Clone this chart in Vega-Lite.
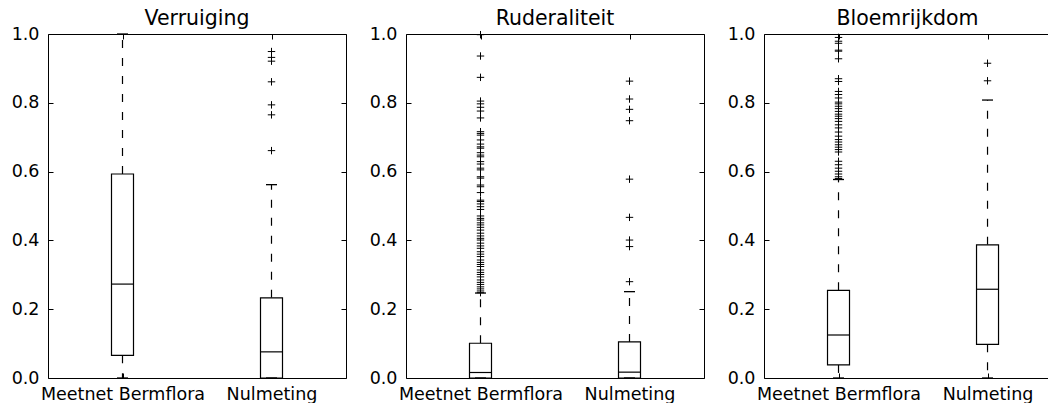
{
  "$schema": "https://vega.github.io/schema/vega-lite/v6.json",
  "autosize": {"type": "pad"},
  "padding": {"left": 11, "top": 8, "right": 0, "bottom": 0},
  "background": "white",
  "bounds": "flush",
  "spacing": 60,
  "config": {
    "font": "DejaVu Sans",
    "view": {"stroke": null},
    "axis": {
      "domainColor": "black", "domainWidth": 1, "tickColor": "black", "tickWidth": 1,
      "labelColor": "black", "labelFont": "DejaVu Sans", "labelFontSize": 17.5,
      "grid": false, "title": null, "labelLimit": 0
    },
    "title": {"font": "DejaVu Sans", "fontSize": 20.5, "fontWeight": "normal", "color": "black", "baseline": "alphabetic", "offset": -4, "anchor": "middle", "frame": "group"}
  },
  "datasets": {
    "boxes": [
      {"panel": "Verruiging", "group": "Meetnet Bermflora", "lo": 0, "q1": 0.066, "med": 0.273, "q3": 0.593, "hi": 1.0},
      {"panel": "Verruiging", "group": "Nulmeting", "lo": 0, "q1": 0, "med": 0.076, "q3": 0.233, "hi": 0.562},
      {"panel": "Ruderaliteit", "group": "Meetnet Bermflora", "lo": 0, "q1": 0, "med": 0.016, "q3": 0.101, "hi": 0.247},
      {"panel": "Ruderaliteit", "group": "Nulmeting", "lo": 0, "q1": 0, "med": 0.017, "q3": 0.105, "hi": 0.251},
      {"panel": "Bloemrijkdom", "group": "Meetnet Bermflora", "lo": 0, "q1": 0.038, "med": 0.125, "q3": 0.255, "hi": 0.577},
      {"panel": "Bloemrijkdom", "group": "Nulmeting", "lo": 0, "q1": 0.098, "med": 0.258, "q3": 0.387, "hi": 0.808}
    ],
    "outliers": [
      {"panel": "Verruiging", "group": "Nulmeting", "v": 0.661},
      {"panel": "Verruiging", "group": "Nulmeting", "v": 0.765},
      {"panel": "Verruiging", "group": "Nulmeting", "v": 0.794},
      {"panel": "Verruiging", "group": "Nulmeting", "v": 0.861},
      {"panel": "Verruiging", "group": "Nulmeting", "v": 0.921},
      {"panel": "Verruiging", "group": "Nulmeting", "v": 0.932},
      {"panel": "Verruiging", "group": "Nulmeting", "v": 0.949},
      {"panel": "Ruderaliteit", "group": "Nulmeting", "v": 0.28},
      {"panel": "Ruderaliteit", "group": "Nulmeting", "v": 0.382},
      {"panel": "Ruderaliteit", "group": "Nulmeting", "v": 0.401},
      {"panel": "Ruderaliteit", "group": "Nulmeting", "v": 0.467},
      {"panel": "Ruderaliteit", "group": "Nulmeting", "v": 0.578},
      {"panel": "Ruderaliteit", "group": "Nulmeting", "v": 0.748},
      {"panel": "Ruderaliteit", "group": "Nulmeting", "v": 0.781},
      {"panel": "Ruderaliteit", "group": "Nulmeting", "v": 0.811},
      {"panel": "Ruderaliteit", "group": "Nulmeting", "v": 0.863},
      {"panel": "Ruderaliteit", "group": "Meetnet Bermflora", "v": 0.998},
      {"panel": "Ruderaliteit", "group": "Meetnet Bermflora", "v": 0.936},
      {"panel": "Ruderaliteit", "group": "Meetnet Bermflora", "v": 0.874},
      {"panel": "Ruderaliteit", "group": "Meetnet Bermflora", "v": 0.805},
      {"panel": "Ruderaliteit", "group": "Meetnet Bermflora", "v": 0.797},
      {"panel": "Ruderaliteit", "group": "Meetnet Bermflora", "v": 0.787},
      {"panel": "Ruderaliteit", "group": "Meetnet Bermflora", "v": 0.776},
      {"panel": "Ruderaliteit", "group": "Meetnet Bermflora", "v": 0.756},
      {"panel": "Ruderaliteit", "group": "Meetnet Bermflora", "v": 0.716},
      {"panel": "Ruderaliteit", "group": "Meetnet Bermflora", "v": 0.711},
      {"panel": "Ruderaliteit", "group": "Meetnet Bermflora", "v": 0.706},
      {"panel": "Ruderaliteit", "group": "Meetnet Bermflora", "v": 0.692},
      {"panel": "Ruderaliteit", "group": "Meetnet Bermflora", "v": 0.68},
      {"panel": "Ruderaliteit", "group": "Meetnet Bermflora", "v": 0.672},
      {"panel": "Ruderaliteit", "group": "Meetnet Bermflora", "v": 0.668},
      {"panel": "Ruderaliteit", "group": "Meetnet Bermflora", "v": 0.655},
      {"panel": "Ruderaliteit", "group": "Meetnet Bermflora", "v": 0.648},
      {"panel": "Ruderaliteit", "group": "Meetnet Bermflora", "v": 0.643},
      {"panel": "Ruderaliteit", "group": "Meetnet Bermflora", "v": 0.629},
      {"panel": "Ruderaliteit", "group": "Meetnet Bermflora", "v": 0.622},
      {"panel": "Ruderaliteit", "group": "Meetnet Bermflora", "v": 0.61},
      {"panel": "Ruderaliteit", "group": "Meetnet Bermflora", "v": 0.605},
      {"panel": "Ruderaliteit", "group": "Meetnet Bermflora", "v": 0.585},
      {"panel": "Ruderaliteit", "group": "Meetnet Bermflora", "v": 0.581},
      {"panel": "Ruderaliteit", "group": "Meetnet Bermflora", "v": 0.561},
      {"panel": "Ruderaliteit", "group": "Meetnet Bermflora", "v": 0.556},
      {"panel": "Ruderaliteit", "group": "Meetnet Bermflora", "v": 0.539},
      {"panel": "Ruderaliteit", "group": "Meetnet Bermflora", "v": 0.517},
      {"panel": "Ruderaliteit", "group": "Meetnet Bermflora", "v": 0.513},
      {"panel": "Ruderaliteit", "group": "Meetnet Bermflora", "v": 0.506},
      {"panel": "Ruderaliteit", "group": "Meetnet Bermflora", "v": 0.498},
      {"panel": "Ruderaliteit", "group": "Meetnet Bermflora", "v": 0.49},
      {"panel": "Ruderaliteit", "group": "Meetnet Bermflora", "v": 0.471},
      {"panel": "Ruderaliteit", "group": "Meetnet Bermflora", "v": 0.464},
      {"panel": "Ruderaliteit", "group": "Meetnet Bermflora", "v": 0.459},
      {"panel": "Ruderaliteit", "group": "Meetnet Bermflora", "v": 0.451},
      {"panel": "Ruderaliteit", "group": "Meetnet Bermflora", "v": 0.445},
      {"panel": "Ruderaliteit", "group": "Meetnet Bermflora", "v": 0.438},
      {"panel": "Ruderaliteit", "group": "Meetnet Bermflora", "v": 0.43},
      {"panel": "Ruderaliteit", "group": "Meetnet Bermflora", "v": 0.421},
      {"panel": "Ruderaliteit", "group": "Meetnet Bermflora", "v": 0.413},
      {"panel": "Ruderaliteit", "group": "Meetnet Bermflora", "v": 0.406},
      {"panel": "Ruderaliteit", "group": "Meetnet Bermflora", "v": 0.401},
      {"panel": "Ruderaliteit", "group": "Meetnet Bermflora", "v": 0.392},
      {"panel": "Ruderaliteit", "group": "Meetnet Bermflora", "v": 0.384},
      {"panel": "Ruderaliteit", "group": "Meetnet Bermflora", "v": 0.377},
      {"panel": "Ruderaliteit", "group": "Meetnet Bermflora", "v": 0.367},
      {"panel": "Ruderaliteit", "group": "Meetnet Bermflora", "v": 0.36},
      {"panel": "Ruderaliteit", "group": "Meetnet Bermflora", "v": 0.353},
      {"panel": "Ruderaliteit", "group": "Meetnet Bermflora", "v": 0.343},
      {"panel": "Ruderaliteit", "group": "Meetnet Bermflora", "v": 0.336},
      {"panel": "Ruderaliteit", "group": "Meetnet Bermflora", "v": 0.33},
      {"panel": "Ruderaliteit", "group": "Meetnet Bermflora", "v": 0.324},
      {"panel": "Ruderaliteit", "group": "Meetnet Bermflora", "v": 0.314},
      {"panel": "Ruderaliteit", "group": "Meetnet Bermflora", "v": 0.307},
      {"panel": "Ruderaliteit", "group": "Meetnet Bermflora", "v": 0.301},
      {"panel": "Ruderaliteit", "group": "Meetnet Bermflora", "v": 0.294},
      {"panel": "Ruderaliteit", "group": "Meetnet Bermflora", "v": 0.285},
      {"panel": "Ruderaliteit", "group": "Meetnet Bermflora", "v": 0.278},
      {"panel": "Ruderaliteit", "group": "Meetnet Bermflora", "v": 0.272},
      {"panel": "Ruderaliteit", "group": "Meetnet Bermflora", "v": 0.265},
      {"panel": "Ruderaliteit", "group": "Meetnet Bermflora", "v": 0.259},
      {"panel": "Ruderaliteit", "group": "Meetnet Bermflora", "v": 0.253},
      {"panel": "Ruderaliteit", "group": "Meetnet Bermflora", "v": 0.248},
      {"panel": "Bloemrijkdom", "group": "Nulmeting", "v": 0.864},
      {"panel": "Bloemrijkdom", "group": "Nulmeting", "v": 0.915},
      {"panel": "Bloemrijkdom", "group": "Meetnet Bermflora", "v": 0.99},
      {"panel": "Bloemrijkdom", "group": "Meetnet Bermflora", "v": 0.979},
      {"panel": "Bloemrijkdom", "group": "Meetnet Bermflora", "v": 0.973},
      {"panel": "Bloemrijkdom", "group": "Meetnet Bermflora", "v": 0.953},
      {"panel": "Bloemrijkdom", "group": "Meetnet Bermflora", "v": 0.95},
      {"panel": "Bloemrijkdom", "group": "Meetnet Bermflora", "v": 0.928},
      {"panel": "Bloemrijkdom", "group": "Meetnet Bermflora", "v": 0.87},
      {"panel": "Bloemrijkdom", "group": "Meetnet Bermflora", "v": 0.862},
      {"panel": "Bloemrijkdom", "group": "Meetnet Bermflora", "v": 0.833},
      {"panel": "Bloemrijkdom", "group": "Meetnet Bermflora", "v": 0.824},
      {"panel": "Bloemrijkdom", "group": "Meetnet Bermflora", "v": 0.814},
      {"panel": "Bloemrijkdom", "group": "Meetnet Bermflora", "v": 0.802},
      {"panel": "Bloemrijkdom", "group": "Meetnet Bermflora", "v": 0.797},
      {"panel": "Bloemrijkdom", "group": "Meetnet Bermflora", "v": 0.79},
      {"panel": "Bloemrijkdom", "group": "Meetnet Bermflora", "v": 0.783},
      {"panel": "Bloemrijkdom", "group": "Meetnet Bermflora", "v": 0.775},
      {"panel": "Bloemrijkdom", "group": "Meetnet Bermflora", "v": 0.767},
      {"panel": "Bloemrijkdom", "group": "Meetnet Bermflora", "v": 0.761},
      {"panel": "Bloemrijkdom", "group": "Meetnet Bermflora", "v": 0.754},
      {"panel": "Bloemrijkdom", "group": "Meetnet Bermflora", "v": 0.746},
      {"panel": "Bloemrijkdom", "group": "Meetnet Bermflora", "v": 0.736},
      {"panel": "Bloemrijkdom", "group": "Meetnet Bermflora", "v": 0.727},
      {"panel": "Bloemrijkdom", "group": "Meetnet Bermflora", "v": 0.715},
      {"panel": "Bloemrijkdom", "group": "Meetnet Bermflora", "v": 0.703},
      {"panel": "Bloemrijkdom", "group": "Meetnet Bermflora", "v": 0.693},
      {"panel": "Bloemrijkdom", "group": "Meetnet Bermflora", "v": 0.686},
      {"panel": "Bloemrijkdom", "group": "Meetnet Bermflora", "v": 0.678},
      {"panel": "Bloemrijkdom", "group": "Meetnet Bermflora", "v": 0.671},
      {"panel": "Bloemrijkdom", "group": "Meetnet Bermflora", "v": 0.664},
      {"panel": "Bloemrijkdom", "group": "Meetnet Bermflora", "v": 0.657},
      {"panel": "Bloemrijkdom", "group": "Meetnet Bermflora", "v": 0.63},
      {"panel": "Bloemrijkdom", "group": "Meetnet Bermflora", "v": 0.62},
      {"panel": "Bloemrijkdom", "group": "Meetnet Bermflora", "v": 0.61},
      {"panel": "Bloemrijkdom", "group": "Meetnet Bermflora", "v": 0.601},
      {"panel": "Bloemrijkdom", "group": "Meetnet Bermflora", "v": 0.593},
      {"panel": "Bloemrijkdom", "group": "Meetnet Bermflora", "v": 0.585},
      {"panel": "Bloemrijkdom", "group": "Meetnet Bermflora", "v": 0.58}
    ]
  },
  "hconcat": [
    {
      "width": 298, "height": 344, "title": "Verruiging",
      "resolve": {"axis": {"x": "independent", "y": "independent"}},
      "layer": [
        {"data": {"name": "boxes"}, "transform": [{"filter": "datum.panel === 'Verruiging'"}],
         "mark": {"type": "rule", "color": "black", "strokeWidth": 1.2, "strokeDash": [8, 10]},
         "encoding": {
           "x": {"field": "group", "type": "nominal", "scale": {"type": "point", "padding": 0.5, "domain": ["Meetnet Bermflora", "Nulmeting"]}, "axis": {"orient": "bottom", "labelAngle": 0, "tickSize": -5, "labelPadding": 12}},
           "y": {"field": "q3", "type": "quantitative", "scale": {"domain": [0, 1], "nice": false, "zero": false}, "axis": {"orient": "left", "values": [0, 0.2, 0.4, 0.6, 0.8, 1.0], "format": ".1f", "tickSize": -5, "labelPadding": 14}},
           "y2": {"field": "hi"}}},
        {"data": {"name": "boxes"}, "transform": [{"filter": "datum.panel === 'Verruiging'"}],
         "mark": {"type": "rule", "color": "black", "strokeWidth": 1.2, "strokeDash": [8, 10]},
         "encoding": {
           "x": {"field": "group", "type": "nominal", "scale": {"type": "point", "padding": 0.5, "domain": ["Meetnet Bermflora", "Nulmeting"]}, "axis": null},
           "y": {"field": "q1", "type": "quantitative", "scale": {"domain": [0, 1], "nice": false, "zero": false}, "axis": null},
           "y2": {"field": "lo"}}},
        {"data": {"name": "boxes"}, "transform": [{"filter": "datum.panel === 'Verruiging'"}],
         "mark": {"type": "bar", "size": 22, "fill": "white", "stroke": "black", "strokeWidth": 1.2},
         "encoding": {
           "x": {"field": "group", "type": "nominal", "scale": {"type": "point", "padding": 0.5, "domain": ["Meetnet Bermflora", "Nulmeting"]}, "axis": null},
           "y": {"field": "q1", "type": "quantitative", "scale": {"domain": [0, 1], "nice": false, "zero": false}, "axis": null},
           "y2": {"field": "q3"}}},
        {"data": {"name": "boxes"}, "transform": [{"filter": "datum.panel === 'Verruiging'"}],
         "mark": {"type": "tick", "size": 22, "thickness": 1.2, "color": "black", "opacity": 1},
         "encoding": {
           "x": {"field": "group", "type": "nominal", "scale": {"type": "point", "padding": 0.5, "domain": ["Meetnet Bermflora", "Nulmeting"]}, "axis": null},
           "y": {"field": "med", "type": "quantitative", "scale": {"domain": [0, 1], "nice": false, "zero": false}, "axis": null}}},
        {"data": {"name": "boxes"}, "transform": [{"filter": "datum.panel === 'Verruiging'"}],
         "mark": {"type": "tick", "size": 11, "thickness": 1.3, "color": "black", "opacity": 1},
         "encoding": {
           "x": {"field": "group", "type": "nominal", "scale": {"type": "point", "padding": 0.5, "domain": ["Meetnet Bermflora", "Nulmeting"]}, "axis": null},
           "y": {"field": "hi", "type": "quantitative", "scale": {"domain": [0, 1], "nice": false, "zero": false}, "axis": null}}},
        {"data": {"name": "boxes"}, "transform": [{"filter": "datum.panel === 'Verruiging'"}],
         "mark": {"type": "tick", "size": 11, "thickness": 1.3, "color": "black", "opacity": 1},
         "encoding": {
           "x": {"field": "group", "type": "nominal", "scale": {"type": "point", "padding": 0.5, "domain": ["Meetnet Bermflora", "Nulmeting"]}, "axis": null},
           "y": {"field": "lo", "type": "quantitative", "scale": {"domain": [0, 1], "nice": false, "zero": false}, "axis": null}}},
        {"data": {"name": "outliers"}, "transform": [{"filter": "datum.panel === 'Verruiging'"}],
         "mark": {"type": "point", "shape": "M-1,0L1,0M0,-1L0,1", "size": 55, "filled": false, "stroke": "black", "strokeWidth": 1, "opacity": 1},
         "encoding": {
           "x": {"field": "group", "type": "nominal", "scale": {"type": "point", "padding": 0.5, "domain": ["Meetnet Bermflora", "Nulmeting"]}, "axis": {"orient": "top", "labels": false, "tickSize": -5}},
           "y": {"field": "v", "type": "quantitative", "scale": {"domain": [0, 1], "nice": false, "zero": false}, "axis": {"orient": "right", "labels": false, "values": [0, 0.2, 0.4, 0.6, 0.8, 1.0], "tickSize": -5}}}}
      ]
    },
    {
      "width": 298, "height": 344, "title": "Ruderaliteit",
      "resolve": {"axis": {"x": "independent", "y": "independent"}},
      "layer": [
        {"data": {"name": "boxes"}, "transform": [{"filter": "datum.panel === 'Ruderaliteit'"}],
         "mark": {"type": "rule", "color": "black", "strokeWidth": 1.2, "strokeDash": [8, 10]},
         "encoding": {
           "x": {"field": "group", "type": "nominal", "scale": {"type": "point", "padding": 0.5, "domain": ["Meetnet Bermflora", "Nulmeting"]}, "axis": {"orient": "bottom", "labelAngle": 0, "tickSize": -5, "labelPadding": 12}},
           "y": {"field": "q3", "type": "quantitative", "scale": {"domain": [0, 1], "nice": false, "zero": false}, "axis": {"orient": "left", "values": [0, 0.2, 0.4, 0.6, 0.8, 1.0], "format": ".1f", "tickSize": -5, "labelPadding": 14}},
           "y2": {"field": "hi"}}},
        {"data": {"name": "boxes"}, "transform": [{"filter": "datum.panel === 'Ruderaliteit'"}],
         "mark": {"type": "rule", "color": "black", "strokeWidth": 1.2, "strokeDash": [8, 10]},
         "encoding": {
           "x": {"field": "group", "type": "nominal", "scale": {"type": "point", "padding": 0.5, "domain": ["Meetnet Bermflora", "Nulmeting"]}, "axis": null},
           "y": {"field": "q1", "type": "quantitative", "scale": {"domain": [0, 1], "nice": false, "zero": false}, "axis": null},
           "y2": {"field": "lo"}}},
        {"data": {"name": "boxes"}, "transform": [{"filter": "datum.panel === 'Ruderaliteit'"}],
         "mark": {"type": "bar", "size": 22, "fill": "white", "stroke": "black", "strokeWidth": 1.2},
         "encoding": {
           "x": {"field": "group", "type": "nominal", "scale": {"type": "point", "padding": 0.5, "domain": ["Meetnet Bermflora", "Nulmeting"]}, "axis": null},
           "y": {"field": "q1", "type": "quantitative", "scale": {"domain": [0, 1], "nice": false, "zero": false}, "axis": null},
           "y2": {"field": "q3"}}},
        {"data": {"name": "boxes"}, "transform": [{"filter": "datum.panel === 'Ruderaliteit'"}],
         "mark": {"type": "tick", "size": 22, "thickness": 1.2, "color": "black", "opacity": 1},
         "encoding": {
           "x": {"field": "group", "type": "nominal", "scale": {"type": "point", "padding": 0.5, "domain": ["Meetnet Bermflora", "Nulmeting"]}, "axis": null},
           "y": {"field": "med", "type": "quantitative", "scale": {"domain": [0, 1], "nice": false, "zero": false}, "axis": null}}},
        {"data": {"name": "boxes"}, "transform": [{"filter": "datum.panel === 'Ruderaliteit'"}],
         "mark": {"type": "tick", "size": 11, "thickness": 1.3, "color": "black", "opacity": 1},
         "encoding": {
           "x": {"field": "group", "type": "nominal", "scale": {"type": "point", "padding": 0.5, "domain": ["Meetnet Bermflora", "Nulmeting"]}, "axis": null},
           "y": {"field": "hi", "type": "quantitative", "scale": {"domain": [0, 1], "nice": false, "zero": false}, "axis": null}}},
        {"data": {"name": "boxes"}, "transform": [{"filter": "datum.panel === 'Ruderaliteit'"}],
         "mark": {"type": "tick", "size": 11, "thickness": 1.3, "color": "black", "opacity": 1},
         "encoding": {
           "x": {"field": "group", "type": "nominal", "scale": {"type": "point", "padding": 0.5, "domain": ["Meetnet Bermflora", "Nulmeting"]}, "axis": null},
           "y": {"field": "lo", "type": "quantitative", "scale": {"domain": [0, 1], "nice": false, "zero": false}, "axis": null}}},
        {"data": {"name": "outliers"}, "transform": [{"filter": "datum.panel === 'Ruderaliteit'"}],
         "mark": {"type": "point", "shape": "M-1,0L1,0M0,-1L0,1", "size": 55, "filled": false, "stroke": "black", "strokeWidth": 1, "opacity": 1},
         "encoding": {
           "x": {"field": "group", "type": "nominal", "scale": {"type": "point", "padding": 0.5, "domain": ["Meetnet Bermflora", "Nulmeting"]}, "axis": {"orient": "top", "labels": false, "tickSize": -5}},
           "y": {"field": "v", "type": "quantitative", "scale": {"domain": [0, 1], "nice": false, "zero": false}, "axis": {"orient": "right", "labels": false, "values": [0, 0.2, 0.4, 0.6, 0.8, 1.0], "tickSize": -5}}}}
      ]
    },
    {
      "width": 287, "height": 344, "title": "Bloemrijkdom",
      "resolve": {"axis": {"x": "independent", "y": "independent"}},
      "layer": [
        {"data": {"name": "boxes"}, "transform": [{"filter": "datum.panel === 'Bloemrijkdom'"}],
         "mark": {"type": "rule", "color": "black", "strokeWidth": 1.2, "strokeDash": [8, 10]},
         "encoding": {
           "x": {"field": "group", "type": "nominal", "scale": {"type": "point", "padding": 0.463, "align": 0.54, "domain": ["Meetnet Bermflora", "Nulmeting"]}, "axis": {"orient": "bottom", "labelAngle": 0, "tickSize": -5, "labelPadding": 12}},
           "y": {"field": "q3", "type": "quantitative", "scale": {"domain": [0, 1], "nice": false, "zero": false}, "axis": {"orient": "left", "values": [0, 0.2, 0.4, 0.6, 0.8, 1.0], "format": ".1f", "tickSize": -5, "labelPadding": 14}},
           "y2": {"field": "hi"}}},
        {"data": {"name": "boxes"}, "transform": [{"filter": "datum.panel === 'Bloemrijkdom'"}],
         "mark": {"type": "rule", "color": "black", "strokeWidth": 1.2, "strokeDash": [8, 10]},
         "encoding": {
           "x": {"field": "group", "type": "nominal", "scale": {"type": "point", "padding": 0.463, "align": 0.54, "domain": ["Meetnet Bermflora", "Nulmeting"]}, "axis": null},
           "y": {"field": "q1", "type": "quantitative", "scale": {"domain": [0, 1], "nice": false, "zero": false}, "axis": null},
           "y2": {"field": "lo"}}},
        {"data": {"name": "boxes"}, "transform": [{"filter": "datum.panel === 'Bloemrijkdom'"}],
         "mark": {"type": "bar", "size": 22, "fill": "white", "stroke": "black", "strokeWidth": 1.2},
         "encoding": {
           "x": {"field": "group", "type": "nominal", "scale": {"type": "point", "padding": 0.463, "align": 0.54, "domain": ["Meetnet Bermflora", "Nulmeting"]}, "axis": null},
           "y": {"field": "q1", "type": "quantitative", "scale": {"domain": [0, 1], "nice": false, "zero": false}, "axis": null},
           "y2": {"field": "q3"}}},
        {"data": {"name": "boxes"}, "transform": [{"filter": "datum.panel === 'Bloemrijkdom'"}],
         "mark": {"type": "tick", "size": 22, "thickness": 1.2, "color": "black", "opacity": 1},
         "encoding": {
           "x": {"field": "group", "type": "nominal", "scale": {"type": "point", "padding": 0.463, "align": 0.54, "domain": ["Meetnet Bermflora", "Nulmeting"]}, "axis": null},
           "y": {"field": "med", "type": "quantitative", "scale": {"domain": [0, 1], "nice": false, "zero": false}, "axis": null}}},
        {"data": {"name": "boxes"}, "transform": [{"filter": "datum.panel === 'Bloemrijkdom'"}],
         "mark": {"type": "tick", "size": 11, "thickness": 1.3, "color": "black", "opacity": 1},
         "encoding": {
           "x": {"field": "group", "type": "nominal", "scale": {"type": "point", "padding": 0.463, "align": 0.54, "domain": ["Meetnet Bermflora", "Nulmeting"]}, "axis": null},
           "y": {"field": "hi", "type": "quantitative", "scale": {"domain": [0, 1], "nice": false, "zero": false}, "axis": null}}},
        {"data": {"name": "boxes"}, "transform": [{"filter": "datum.panel === 'Bloemrijkdom'"}],
         "mark": {"type": "tick", "size": 11, "thickness": 1.3, "color": "black", "opacity": 1},
         "encoding": {
           "x": {"field": "group", "type": "nominal", "scale": {"type": "point", "padding": 0.463, "align": 0.54, "domain": ["Meetnet Bermflora", "Nulmeting"]}, "axis": null},
           "y": {"field": "lo", "type": "quantitative", "scale": {"domain": [0, 1], "nice": false, "zero": false}, "axis": null}}},
        {"data": {"name": "outliers"}, "transform": [{"filter": "datum.panel === 'Bloemrijkdom'"}],
         "mark": {"type": "point", "shape": "M-1,0L1,0M0,-1L0,1", "size": 55, "filled": false, "stroke": "black", "strokeWidth": 1, "opacity": 1},
         "encoding": {
           "x": {"field": "group", "type": "nominal", "scale": {"type": "point", "padding": 0.463, "align": 0.54, "domain": ["Meetnet Bermflora", "Nulmeting"]}, "axis": {"orient": "top", "labels": false, "tickSize": -5}},
           "y": {"field": "v", "type": "quantitative", "scale": {"domain": [0, 1], "nice": false, "zero": false}, "axis": null}}}
      ]
    }
  ]
}
